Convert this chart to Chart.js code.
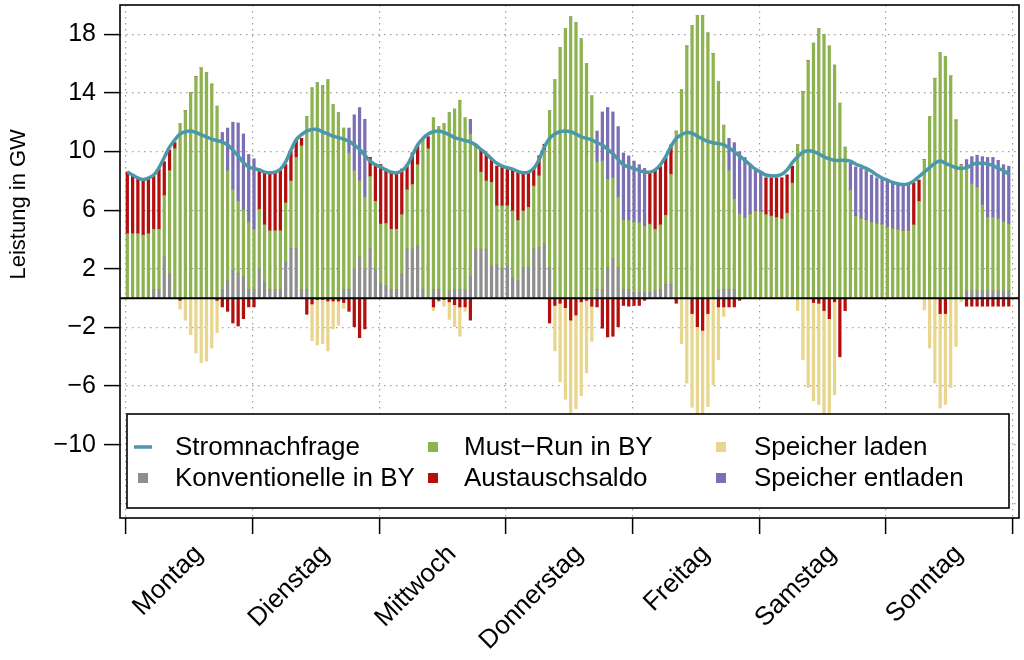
<!DOCTYPE html>
<html lang="de">
<head>
<meta charset="utf-8">
<title>Leistung in GW</title>
<script src="https://cdn.jsdelivr.net/npm/chart.js@4.4.1/dist/chart.umd.min.js"></script>
<style>
    html, body { margin: 0; padding: 0; background: #ffffff; }
    #wrap { width: 1024px; height: 660px; position: relative; }
</style>
</head>
<body>
<div id="wrap"><canvas id="lastChart"></canvas></div>
<script>
const tage = ["Montag", "Dienstag", "Mittwoch", "Donnerstag", "Freitag", "Samstag", "Sonntag"];
const yBeschriftung = [18, 14, 10, 6, 2, -2, -6, -10];

// Stundenwerte in GW, je Zeile ein Tag (Mo ... So)
const nachfrage = [
    8.6, 8.4, 8.2, 8.1, 8.2, 8.4, 8.9, 9.6, 10.3, 10.8, 11.2, 11.35, 11.4, 11.3, 11.15, 11.0, 10.85, 10.75, 10.65, 10.45, 10.1, 9.7, 9.25, 8.95,
    8.85, 8.75, 8.6, 8.55, 8.6, 8.8, 9.3, 10.1, 10.8, 11.15, 11.4, 11.5, 11.5, 11.35, 11.2, 11.05, 10.95, 10.85, 10.7, 10.45, 10.15, 9.75, 9.35, 9.1,
    8.95, 8.75, 8.6, 8.55, 8.7, 9.05, 9.75, 10.45, 10.9, 11.2, 11.35, 11.4, 11.3, 11.15, 10.95, 10.85, 10.75, 10.65, 10.45, 10.15, 9.85, 9.5, 9.2, 9.0,
    8.9, 8.8, 8.65, 8.55, 8.6, 8.85, 9.45, 10.3, 10.9, 11.2, 11.35, 11.4, 11.35, 11.2, 11.0, 10.9, 10.8, 10.6, 10.45, 10.15, 9.85, 9.45, 9.1, 8.95,
    8.85, 8.7, 8.6, 8.6, 8.75, 9.1, 9.65, 10.35, 10.9, 11.15, 11.3, 11.25, 11.05, 10.85, 10.7, 10.6, 10.55, 10.45, 10.25, 10.0, 9.7, 9.4, 9.1, 8.8,
    8.6, 8.4, 8.35, 8.35, 8.45, 8.75, 9.25, 9.65, 9.95, 10.05, 10.0, 9.85, 9.65, 9.5, 9.4, 9.4, 9.4, 9.35, 9.15, 9.0, 8.85, 8.65, 8.4, 8.2,
    8.05, 7.9, 7.8, 7.75, 7.8, 8.0, 8.3, 8.6, 8.9, 9.2, 9.35, 9.2, 9.05, 8.9, 8.85, 8.9, 9.1, 9.2, 9.2, 9.15, 9.05, 8.85, 8.7, 8.45
];
const konventionelle = [
    0, 0, 0, 0, 0, 0.6, 0.6, 2.8, 1.7, 0, 0, 0, 0, 0, 0, 0, 0, 0, 0.6, 1.2, 1.9, 1.7, 1.45, 0.6,
    0.6, 2.0, 1.1, 0.6, 0.6, 0.6, 2.5, 3.4, 3.4, 0.6, 0.6, 0, 0, 0, 0, 0, 0, 0.6, 0.6, 2.0, 2.8, 2.0, 3.4, 2.0,
    1.0, 0.85, 0.6, 0.6, 1.65, 3.35, 3.35, 3.6, 0.6, 0, 0.6, 0.6, 0, 0.5, 0.6, 0.6, 0.6, 1.5, 3.35, 3.35, 3.35, 2.2, 2.3, 2.0,
    2.2, 1.4, 1.2, 2.1, 2.1, 3.35, 3.45, 3.7, 2.1, 0, 0, 0, 0, 0, 0, 0, 0, 0.6, 0.6, 2.1, 2.7, 2.1, 0.6, 0.6,
    0.4, 0.4, 0.4, 0.4, 0.5, 0.6, 0.95, 0.95, 0, 0, 0, 0, 0, 0, 0, 0, 0.6, 0.6, 0.6, 0.6, 0, 0, 0, 0,
    0, 0, 0, 0, 0, 0, 0, 0, 0, 0, 0, 0, 0, 0, 0, 0, 0, 0, 0, 0, 0, 0, 0, 0,
    0, 0, 0, 0, 0, 0, 0, 0, 0, 0, 0, 0, 0, 0, 0, 0.5, 0.5, 0.5, 0.5, 0.5, 0.5, 0.5, 0.5, 0.5
];
const mustRun = [
    4.4, 4.4, 4.4, 4.3, 4.4, 4.1, 4.1, 4.2, 7.0, 10.2, 11.9, 12.8, 14.0, 15.1, 15.7, 15.4, 14.6, 13.1, 10.1, 7.5, 5.5, 4.9, 4.55, 4.6,
    4.1, 4.05, 3.9, 4.0, 4.0, 4.0, 4.0, 4.6, 6.2, 9.8, 11.8, 14.35, 14.7, 14.5, 14.9, 13.2, 12.65, 11.0, 9.3, 6.7, 5.2, 4.9, 4.9, 4.6,
    4.05, 4.25, 4.1, 4.1, 4.05, 4.05, 4.4, 5.5, 10.3, 10.2, 11.7, 11.1, 11.9, 12.15, 12.3, 12.9, 11.7, 9.7, 7.15, 5.25, 4.65, 5.7, 4.0, 4.3,
    4.1, 4.55, 4.1, 3.85, 4.1, 4.3, 4.9, 6.4, 10.7, 14.9, 17.1, 18.4, 19.2, 18.8, 17.7, 16.0, 13.8, 8.7, 8.75, 6.0, 5.5, 4.8, 4.7, 4.7,
    4.8, 4.75, 4.5, 4.65, 4.2, 4.4, 4.7, 7.5, 11.4, 14.2, 17.2, 18.6, 19.3, 19.3, 18.1, 16.7, 14.2, 11.2, 8.1, 6.15, 5.75, 5.5, 5.75, 5.95,
    5.9, 5.7, 5.6, 5.5, 5.4, 5.8, 7.85, 10.45, 14.1, 16.2, 17.4, 18.4, 18.0, 17.2, 15.9, 13.3, 10.3, 7.4, 5.6, 5.45, 5.35, 5.2, 5.1, 5.05,
    4.85, 4.75, 4.7, 4.6, 4.6, 5.0, 6.6, 9.45, 12.4, 15.0, 16.75, 16.5, 15.15, 12.15, 9.1, 8.4, 7.3, 7.05, 5.85, 5.0, 5.0, 4.9, 4.7, 4.55
];
const austauschsaldo = [
    4.2, 3.95, 3.8, 3.7, 3.7, 3.6, 4.1, 2.3, 1.4, 0.4, -0.15, 0, 0, 0, 0, 0, 0, -0.15, -0.6, -0.9, -1.7, -1.9, -1.4, -0.6,
    -0.6, 2.75, 3.55, 3.9, 3.95, 4.1, 2.6, 2.0, 1.2, 0.5, -1.1, -0.4, -0.1, -0.1, -0.2, -0.2, -0.2, -0.3, -0.9, -1.95, -2.7, -2.1, 1.3, 2.55,
    4.05, 3.7, 3.95, 3.85, 3.1, 1.7, 2.15, 1.4, 0, 0.8, -0.6, -0.15, -0.1, -0.25, -0.45, -0.6, -0.6, -1.5, 0, 1.5, 1.8, 1.65, 2.7, 2.6,
    2.6, 2.85, 3.3, 2.6, 2.4, 1.25, 1.35, 0.4, -1.7, -0.5, -0.35, -0.65, -1.5, -1.15, -0.25, -0.15, -0.55, -0.6, -2.05, -2.65, -2.6, -1.95, -0.5, -0.55,
    -0.5, -0.5, -0.15, 3.55, 3.95, 3.95, 3.95, 2.0, -0.35, 0, 0, -1.05, -1.95, -2.2, -1.05, 0, -0.6, -0.6, -0.6, -0.6, -0.15, 0, 0, 0,
    0, 2.5, 2.6, 2.7, 2.8, 2.6, 1.15, 0, 0, 0, -0.3, -0.35, -0.85, -1.4, -0.25, -4.0, -0.85, 0, 0, 0, 0, 0, 0, 0,
    0, 0, 0, 0, 0, 2.85, 1.45, 0, 0, 0, -1.05, -1.05, 0, 0, 0, -0.55, -0.55, -0.55, -0.55, -0.55, -0.55, -0.55, -0.55, -0.55
];
const speicherEntladen = [
    0, 0, 0, 0, 0, 0, 0, 0, 0, 0, 0, 0, 0, 0, 0, 0, 0, 0, 0.6, 2.9, 4.6, 5.35, 5.2, 4.6,
    4.8, 0, 0, 0, 0, 0, 0, 0, 0, 0, 0, 0, 0, 0, 0, 0, 0, 0, 1.7, 3.8, 5.0, 5.3, 0, 0,
    0, 0, 0, 0, 0, 0, 0, 0, 0, 0, 0, 0, 0, 0, 0, 0, 0, 1.0, 0, 0, 0, 0, 0, 0,
    0, 0, 0, 0, 0, 0, 0, 0, 0, 0, 0, 0, 0, 0, 0, 0, 0, 2.1, 3.35, 4.9, 4.5, 4.8, 4.6, 4.4,
    4.15, 3.95, 3.95, 0, 0, 0, 0, 0, 0, 0, 0, 0, 0, 0, 0, 0, 0, 0, 2.2, 3.85, 4.25, 4.1, 3.35, 2.85,
    2.6, 0, 0, 0, 0, 0, 0, 0, 0, 0, 0, 0, 0, 0, 0, 0, 0, 1.8, 3.35, 3.4, 3.35, 3.2, 3.1, 3.05,
    3.2, 3.15, 3.1, 3.15, 3.15, 0, 0, 0, 0, 0, 0, 0, 0, 0, 0, 0.55, 1.85, 2.2, 3.3, 4.1, 4.1, 4.0, 3.9, 3.95
];
const speicherLaden = [
    0, 0, 0, 0, 0, 0, 0, 0, 0, 0, -0.6, -1.5, -2.5, -3.75, -4.4, -4.3, -3.4, -2.2, 0, 0, 0, 0, 0, 0,
    0, 0, 0, 0, 0, 0, 0, 0, 0, 0, 0, -2.5, -3.1, -3.0, -3.4, -1.9, -1.65, -0.4, 0, 0, 0, 0, 0, 0,
    0, 0, 0, 0, 0, 0, 0, 0, 0, 0, -0.25, -0.1, -0.45, -1.2, -1.5, -2.0, -0.3, 0, 0, 0, 0, 0, 0, 0,
    0, 0, 0, 0, 0, 0, 0, 0, 0, -3.1, -5.35, -6.25, -6.35, -6.4, -6.4, -4.95, -2.4, 0, 0, 0, 0, 0, 0, 0,
    0, 0, 0, 0, 0, 0, 0, 0, 0, -3.1, -5.8, -6.4, -6.4, -6.35, -6.35, -5.9, -3.6, -0.65, 0, 0, 0, 0, 0, 0,
    0, 0, 0, 0, 0, 0, 0, -0.85, -4.2, -6.1, -6.7, -6.9, -7.0, -6.4, -6.35, 0, 0, 0, 0, 0, 0, 0, 0, 0,
    0, 0, 0, 0, 0, 0, 0, -0.8, -3.4, -5.8, -6.45, -6.2, -6.1, -3.3, -0.25, 0, 0, 0, 0, 0, 0, 0, 0, 0
];

const farben = {
    nachfrage: "#4a98a9",
    konventionelle: "#8e8e8e",
    mustRun: "#8db350",
    austausch: "#b40f0f",
    entladen: "#7b70b3",
    laden: "#e8d68e",
};
const schrift = '"Liberation Sans", Arial, Helvetica, sans-serif';
const stundenProTag = 24;
const labelVersatz = 13.8;

function alsPunkte(werte) {
    return werte.map((v, i) => ({ x: i + 0.25, y: v }));
}

function balken(label, werte, farbe) {
    return {
        type: "bar",
        label: label,
        data: alsPunkte(werte),
        backgroundColor: farbe,
        borderWidth: 0,
        barThickness: 2.6,
        grouped: false,
        stack: "leistung",
    };
}

function istGrenze(v) {
    return Math.abs(v / stundenProTag - Math.round(v / stundenProTag)) < 1e-6;
}

// Nulllinie, Rahmen und Achsentitel
const rahmenPlugin = {
    id: "rahmen",
    afterDatasetsDraw(chart) {
        const { ctx, chartArea } = chart;
        const y0 = chart.scales.y.getPixelForValue(0);
        ctx.save();
        ctx.strokeStyle = "#000000";
        ctx.lineWidth = 2;
        ctx.beginPath();
        ctx.moveTo(chartArea.left, y0);
        ctx.lineTo(chartArea.right, y0);
        ctx.stroke();
        ctx.restore();
    },
    afterDraw(chart) {
        const { ctx, chartArea } = chart;
        ctx.save();
        ctx.strokeStyle = "#000000";
        ctx.lineWidth = 1.6;
        ctx.strokeRect(chartArea.left, chartArea.top, chartArea.right - chartArea.left, chartArea.bottom - chartArea.top);

        // y-Achsentitel sitzt im Original etwas oberhalb der Mitte
        ctx.translate(19, chart.scales.y.getPixelForValue(6.4));
        ctx.rotate(-Math.PI / 2);
        ctx.font = "22px " + schrift;
        ctx.fillStyle = "#000000";
        ctx.textAlign = "center";
        ctx.textBaseline = "middle";
        ctx.fillText("Leistung in GW", 0, 0);
        ctx.restore();
    },
};

// Legende im unteren Teil der Grafik
const legendePlugin = {
    id: "legende",
    afterDraw(chart) {
        const { ctx, chartArea } = chart;
        const links = chartArea.left + 7;
        const rechts = chartArea.right - 10;
        const oben = chartArea.bottom - 104;
        const unten = chartArea.bottom - 10;
        ctx.save();
        ctx.fillStyle = "#ffffff";
        ctx.fillRect(links, oben, rechts - links, unten - oben);
        ctx.strokeStyle = "#000000";
        ctx.lineWidth = 1.6;
        ctx.strokeRect(links, oben, rechts - links, unten - oben);

        const eintraege = [
            { text: "Stromnachfrage", farbe: farben.nachfrage, linie: true, spalte: 0, zeile: 0 },
            { text: "Konventionelle in BY", farbe: farben.konventionelle, spalte: 0, zeile: 1 },
            { text: "Must\u2212Run in BY", farbe: farben.mustRun, spalte: 1, zeile: 0 },
            { text: "Austauschsaldo", farbe: farben.austausch, spalte: 1, zeile: 1 },
            { text: "Speicher laden", farbe: farben.laden, spalte: 2, zeile: 0 },
            { text: "Speicher entladen", farbe: farben.entladen, spalte: 2, zeile: 1 },
        ];
        const spaltenX = [16, 306, 594];
        const textX = [48, 337, 627];
        ctx.font = "26px " + schrift;
        ctx.textBaseline = "middle";
        ctx.textAlign = "left";
        eintraege.forEach(function (e) {
            const y = oben + 33 + e.zeile * 31;
            const sx = links + spaltenX[e.spalte];
            if (e.linie) {
                ctx.strokeStyle = e.farbe;
                ctx.lineWidth = 3.5;
                ctx.beginPath();
                ctx.moveTo(sx - 9, y);
                ctx.lineTo(sx + 9, y);
                ctx.stroke();
            } else {
                ctx.fillStyle = e.farbe;
                ctx.fillRect(sx - 5, y - 5, 10, 10);
            }
            ctx.fillStyle = "#000000";
            ctx.fillText(e.text, links + textX[e.spalte], y + 1);
        });
        ctx.restore();
    },
};

const ctx = document.getElementById("lastChart").getContext("2d");
new Chart(ctx, {
    type: "bar",
    data: {
        datasets: [
            balken("Konventionelle in BY", konventionelle, farben.konventionelle),
            balken("Must-Run in BY", mustRun, farben.mustRun),
            balken("Austauschsaldo", austauschsaldo, farben.austausch),
            balken("Speicher entladen", speicherEntladen, farben.entladen),
            balken("Speicher laden", speicherLaden, farben.laden),
            {
                type: "line",
                label: "Stromnachfrage",
                data: alsPunkte(nachfrage),
                borderColor: farben.nachfrage,
                borderWidth: 3.5,
                pointRadius: 0,
                tension: 0.4,
                fill: false,
                stack: "nachfrage",
                order: -1,
            },
        ],
    },
    options: {
        responsive: true,
        maintainAspectRatio: false,
        animation: false,
        devicePixelRatio: 1,
        layout: { padding: { left: 0, right: 5, top: 5, bottom: 0 } },
        plugins: {
            legend: { display: false },
            tooltip: { enabled: false },
        },
        scales: {
            x: {
                type: "linear",
                min: -1.137,
                max: 169.19,
                offset: false,
                afterBuildTicks: function (axis) {
                    const werte = [];
                    for (let d = 0; d <= tage.length; d++) {
                        werte.push(d * stundenProTag);
                        if (d < tage.length) werte.push(d * stundenProTag + labelVersatz);
                    }
                    axis.ticks = werte.map((v) => ({ value: v }));
                },
                afterFit: function (axis) {
                    axis.height = 142;
                    axis.paddingLeft = 0;
                    axis.paddingRight = 0;
                },
                ticks: {
                    autoSkip: false,
                    maxRotation: 45,
                    minRotation: 45,
                    padding: 5,
                    color: "#000000",
                    font: { family: schrift, size: 26 },
                    callback: function (value) {
                        const d = Math.round((value - labelVersatz) / stundenProTag);
                        if (d >= 0 && d < tage.length && Math.abs(value - (d * stundenProTag + labelVersatz)) < 1e-6) {
                            return tage[d];
                        }
                        return "";
                    },
                },
                grid: {
                    offset: false,
                    color: (c) => (c.tick && istGrenze(c.tick.value) ? "#a0a0a0" : "rgba(0,0,0,0)"),
                    lineWidth: 1.2,
                    tickLength: 16,
                    tickWidth: 1.5,
                    tickColor: (c) => (c.tick && istGrenze(c.tick.value) ? "#000000" : "rgba(0,0,0,0)"),
                },
                border: { display: false, dash: [1.5, 4.5] },
            },
            y: {
                type: "linear",
                min: -15,
                max: 20,
                stacked: true,
                afterBuildTicks: function (axis) {
                    const werte = [];
                    for (let v = -14; v <= 18; v += 2) werte.push({ value: v });
                    axis.ticks = werte;
                },
                afterFit: function (axis) {
                    axis.width = 120;
                    axis.paddingTop = 0;
                    axis.paddingBottom = 0;
                },
                ticks: {
                    padding: 8,
                    color: "#000000",
                    font: { family: schrift, size: 25 },
                    callback: function (value) {
                        if (!yBeschriftung.includes(value)) return "";
                        return value < 0 ? "\u2212" + Math.abs(value) : String(value);
                    },
                },
                grid: {
                    color: "#a0a0a0",
                    lineWidth: 1.2,
                    tickLength: 16,
                    tickWidth: 1.5,
                    tickColor: (c) => (c.tick && yBeschriftung.includes(c.tick.value) ? "#000000" : "rgba(0,0,0,0)"),
                },
                border: { display: false, dash: [1.5, 4.5] },
            },
        },
    },
    plugins: [rahmenPlugin, legendePlugin],
});
</script>
</body>
</html>
